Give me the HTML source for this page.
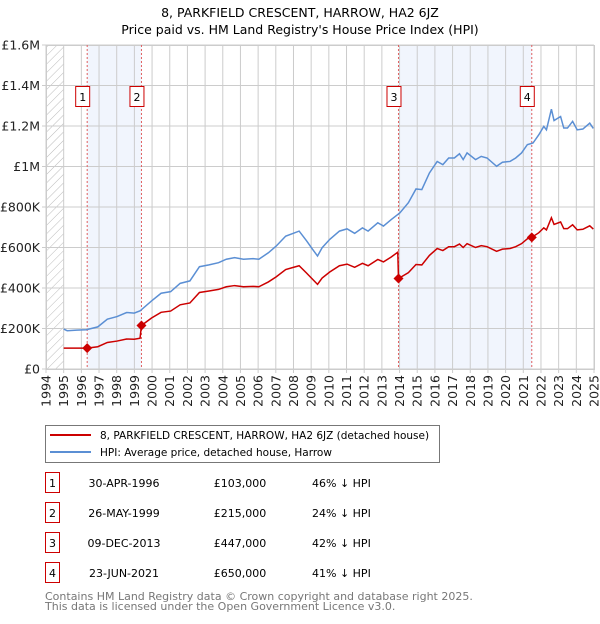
<!DOCTYPE html>
<html><head><meta charset="utf-8"><style>
body{margin:0;background:#fff;width:600px;height:620px;overflow:hidden;font-family:"DejaVu Sans","Liberation Sans",sans-serif;}
</style></head><body>
<svg id="chart" width="600" height="620" xmlns="http://www.w3.org/2000/svg" font-family="DejaVu Sans, Liberation Sans, sans-serif">
<defs><pattern id="hatch" width="6" height="6" patternUnits="userSpaceOnUse" patternTransform="rotate(45)"><line x1="0" y1="0" x2="0" y2="6" stroke="#bbb" stroke-width="1"/></pattern></defs>
<text x="300" y="17" text-anchor="middle" font-size="12.5">8, PARKFIELD CRESCENT, HARROW, HA2 6JZ</text>
<text x="300" y="34" text-anchor="middle" font-size="12.5">Price paid vs. HM Land Registry's House Price Index (HPI)</text>
<g id="plot"></g>
<g>
<rect x="45.5" y="425.5" width="394" height="37" fill="#fff" stroke="#777"/>
<line x1="50" y1="435" x2="91" y2="435" stroke="#cc0000" stroke-width="2"/>
<text x="100" y="439" font-size="10.5">8, PARKFIELD CRESCENT, HARROW, HA2 6JZ (detached house)</text>
<line x1="50" y1="452" x2="91" y2="452" stroke="#5b8fd4" stroke-width="2"/>
<text x="100" y="456" font-size="10.5">HPI: Average price, detached house, Harrow</text>
</g>
<g id="table" font-size="11"></g>
<text x="45" y="600" font-size="11" fill="#777">Contains HM Land Registry data © Crown copyright and database right 2025.</text>
<text x="45" y="610" font-size="11" fill="#777">This data is licensed under the Open Government Licence v3.0.</text>
</svg>
<script>
const hpiYears=[1995.0,1995.2,1995.74,1996.28,1996.93,1997.47,1998.02,1998.56,1998.99,1999.32,1999.97,2000.51,2001.05,2001.59,2002.14,2002.68,2003.22,2003.76,2004.2,2004.67,2005.17,2005.72,2006.04,2006.58,2007.02,2007.56,2007.99,2008.32,2008.75,2009.08,2009.36,2009.62,2010.05,2010.6,2011.03,2011.46,2011.9,2012.22,2012.77,2013.09,2013.53,2014.02,2014.5,2014.93,2015.26,2015.69,2016.13,2016.45,2016.78,2017.1,2017.39,2017.6,2017.82,2018.3,2018.62,2018.95,2019.49,2019.82,2020.25,2020.57,2020.9,2021.23,2021.55,2021.88,2022.16,2022.31,2022.59,2022.74,2023.11,2023.29,2023.5,2023.79,2024.05,2024.37,2024.76,2024.96];
const hpiValues=[197,189,192,194,208,246,259,279,276,287,336,374,382,423,435,505,514,525,542,550,542,545,542,574,607,656,670,681,632,591,558,599,640,681,692,670,697,681,722,706,738,771,821,889,886,968,1025,1009,1042,1042,1063,1034,1067,1034,1050,1042,1001,1021,1025,1042,1067,1108,1116,1157,1198,1181,1283,1227,1247,1190,1190,1223,1181,1185,1214,1188];
const priceYears=[1995.0,1995.74,1996.33,1996.93,1997.47,1998.02,1998.56,1998.99,1999.32,1999.40,1999.97,2000.51,2001.05,2001.59,2002.14,2002.68,2003.22,2003.76,2004.2,2004.67,2005.17,2005.72,2006.04,2006.58,2007.02,2007.56,2007.99,2008.32,2008.75,2009.08,2009.36,2009.62,2010.05,2010.6,2011.03,2011.46,2011.9,2012.22,2012.77,2013.09,2013.53,2013.9,2013.94,2014.5,2014.93,2015.26,2015.69,2016.13,2016.45,2016.78,2017.1,2017.39,2017.6,2017.82,2018.3,2018.62,2018.95,2019.49,2019.82,2020.25,2020.57,2020.9,2021.23,2021.48,2021.88,2022.16,2022.31,2022.59,2022.74,2023.11,2023.29,2023.5,2023.79,2024.05,2024.37,2024.76,2024.96];
const priceValues=[103,103,103,110,131,138,148,147,152,215,252,280,286,317,326,378,385,393,406,412,406,408,406,430,455,491,502,510,473,443,418,449,479,510,518,502,522,510,541,529,553,577,447,476,516,514,561,595,585,604,604,617,600,619,600,609,604,581,592,595,604,619,643,650,673,697,687,747,714,726,693,693,712,687,690,707,691];
const saleYears=[1996.33,1999.40,2013.94,2021.48];
const saleValues=[103,215,447,650];
const saleLabels=["1","2","3","4"];
const saleDates=["30-APR-1996","26-MAY-1999","09-DEC-2013","23-JUN-2021"];
const salePrices=["£103,000","£215,000","£447,000","£650,000"];
const saleDiffs=["46% ↓ HPI","24% ↓ HPI","42% ↓ HPI","41% ↓ HPI"];
const yTicks=[0,200,400,600,800,1000,1200,1400,1600];
const yTickLabels=["£0","£200K","£400K","£600K","£800K","£1M","£1.2M","£1.4M","£1.6M"];
const xTicks=[1994,1995,1996,1997,1998,1999,2000,2001,2002,2003,2004,2005,2006,2007,2008,2009,2010,2011,2012,2013,2014,2015,2016,2017,2018,2019,2020,2021,2022,2023,2024,2025];

const NS="http://www.w3.org/2000/svg";
const X0=46,X1=594,Y0=369,Y1=45;
const xs=y=>X0+(y-1994)/(2025-1994)*(X1-X0);
const ys=v=>Y0-v/1600*(Y0-Y1);
const plot=document.getElementById('plot');
function mk(tag,attrs,parent){const e=document.createElementNS(NS,tag);for(const k in attrs)e.setAttribute(k,attrs[k]);(parent||plot).appendChild(e);return e;}

let e;
e=mk('rect',{x:X0,y:Y1,width:X1-X0,height:Y0-Y1,fill:'#fff'});


e=mk('rect',{x:X0,y:Y1,width:xs(1995)-X0,height:Y0-Y1,fill:'url(#hatch)'});


for(const [a,b] of [[0,1],[2,3]]){
  e=mk('rect',{x:xs(saleYears[a]),y:Y1,width:xs(saleYears[b])-xs(saleYears[a]),height:Y0-Y1,fill:'#eef3fc',opacity:0.8});
  
  
}
xTicks.forEach(t=>{
  e=mk('line',{x1:xs(t),x2:xs(t),y1:Y1,y2:Y0+4,stroke:'#ccc','stroke-width':1});
  
  
  e=mk('text',{x:0,y:0,transform:`translate(${xs(t)+4.5},${Y0+6}) rotate(-90)`,'text-anchor':'end','font-size':12.5,fill:'#222'});
  e.textContent=t;
  
  
});
yTicks.forEach((t,i)=>{
  e=mk('line',{x1:X0-4,x2:X1,y1:ys(t),y2:ys(t),stroke:'#ccc','stroke-width':1});
  
  
  e=mk('text',{x:X0-6,y:ys(t)+4.5,'text-anchor':'end','font-size':12.5,fill:'#222'});
  e.textContent=yTickLabels[i];
  
  
});
e=mk('rect',{x:X0+0.5,y:Y1+0.5,width:X1-X0,height:Y0-Y1,fill:'none',stroke:'#ccc'});


saleYears.forEach((s,i)=>{
  e=mk('line',{x1:xs(s),x2:xs(s),y1:Y1,y2:Y0,stroke:'#e06060','stroke-width':1,'stroke-dasharray':'2,2'});
  
  
  const g=mk('g',{});
  
  
  mk('rect',{x:xs(s)-11.5,y:86.5,width:14,height:20,fill:'#fff',stroke:'#cc0000'},g);
  const t=mk('text',{x:xs(s)-4.5,y:101,'text-anchor':'middle','font-size':11},g);t.textContent=saleLabels[i];
});
e=mk('polyline',{points:hpiYears.map((y,i)=>xs(y)+','+ys(hpiValues[i])).join(' '),fill:'none',stroke:'#5b8fd4','stroke-width':1.5});


e=mk('polyline',{points:priceYears.map((y,i)=>xs(y)+','+ys(priceValues[i])).join(' '),fill:'none',stroke:'#cc0000','stroke-width':1.5});


saleYears.forEach((s,i)=>{
  const cx=xs(s),cy=ys(saleValues[i]);
  e=mk('polygon',{points:`${cx},${cy-5} ${cx+5},${cy} ${cx},${cy+5} ${cx-5},${cy}`,fill:'#cc0000'});
  
  
});
const tbl=document.getElementById('table');
saleLabels.forEach((l,i)=>{
  const cy=483+i*30;
  const g=mk('g',{},tbl);
  
  
  mk('rect',{x:45.5,y:cy-10.5,width:14,height:20,fill:'#fff',stroke:'#cc0000'},g);
  let t=mk('text',{x:52.5,y:cy+4,'text-anchor':'middle'},g);t.textContent=l;
  t=mk('text',{x:124,y:cy+4,'text-anchor':'middle'},g);t.textContent=saleDates[i];
  t=mk('text',{x:240,y:cy+4,'text-anchor':'middle'},g);t.textContent=salePrices[i];
  t=mk('text',{x:312,y:cy+4},g);t.textContent=saleDiffs[i];
});
</script>
</body></html>
